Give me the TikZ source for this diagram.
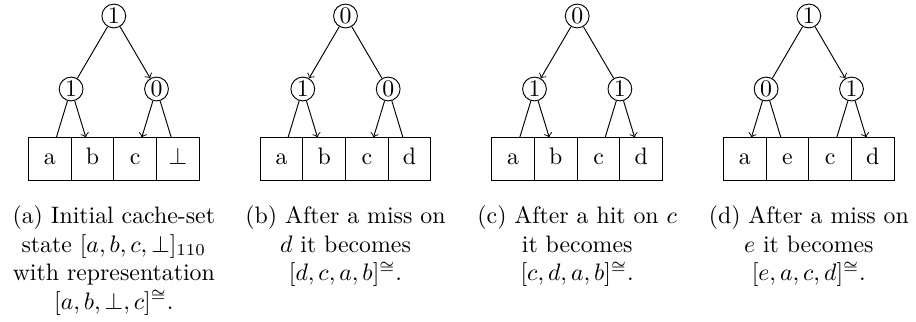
\documentclass[tikz,border=0pt]{standalone}
\begin{document}
\begin{tikzpicture}[x=0.42pt,y=-0.42pt,
  bit/.style={draw,circle,minimum size=10pt,inner sep=0pt},
  cell/.style={draw,minimum size=17.93pt,inner sep=0pt,text height=6.9pt,text depth=2.7pt},
  captext/.style={align=center,anchor=north,inner sep=0pt},
  arr/.style={->}]
\useasboundingbox (0,0) rectangle (916,322);

% ---------- (a)
\begin{scope}[shift={(113.8,0)}]
\node[bit] (ar) at (0,16) {1};
\node[bit] (al) at (-42.7,89) {1};
\node[bit] (aR) at (42.7,89) {0};
\node[cell] (a1) at (-64.05,159.2) {a};
\node[cell] (a2) at (-21.35,159.2) {b};
\node[cell] (a3) at (21.35,159.2) {c};
\node[cell] (a4) at (64.05,159.2) {$\perp$};
\draw (ar) -- (al); \draw[arr] (ar) -- (aR);
\draw (al) -- (a1); \draw[arr] (al) -- (a2);
\draw[arr] (aR) -- (a3); \draw (aR) -- (a4);
\node[captext] (acap) at (0,205.2) {(a) Initial cache-set\\ state $[a,b,c,\perp]_{110}$\\ with representation\\ $[a,b,\perp,c]^{\cong}$.};
\end{scope}

% ---------- (b)
\begin{scope}[shift={(345.5,0)}]
\node[bit] (br) at (0,16) {0};
\node[bit] (bl) at (-42.7,89) {1};
\node[bit] (bR) at (42.7,89) {0};
\node[cell] (b1) at (-64.05,159.2) {a};
\node[cell] (b2) at (-21.35,159.2) {b};
\node[cell] (b3) at (21.35,159.2) {c};
\node[cell] (b4) at (64.05,159.2) {d};
\draw[arr] (br) -- (bl); \draw (br) -- (bR);
\draw (bl) -- (b1); \draw[arr] (bl) -- (b2);
\draw[arr] (bR) -- (b3); \draw (bR) -- (b4);
\node[captext] (bcap) at (0,205.2) {(b) After a miss on\\ $d$ it becomes\\ $[d,c,a,b]^{\cong}$.};
\end{scope}

% ---------- (c)
\begin{scope}[shift={(577.2,0)}]
\node[bit] (cr) at (0,16) {0};
\node[bit] (cl) at (-42.7,89) {1};
\node[bit] (cR) at (42.7,89) {1};
\node[cell] (c1) at (-64.05,159.2) {a};
\node[cell] (c2) at (-21.35,159.2) {b};
\node[cell] (c3) at (21.35,159.2) {c};
\node[cell] (c4) at (64.05,159.2) {d};
\draw[arr] (cr) -- (cl); \draw (cr) -- (cR);
\draw (cl) -- (c1); \draw[arr] (cl) -- (c2);
\draw (cR) -- (c3); \draw[arr] (cR) -- (c4);
\node[captext] (ccap) at (0,205.2) {(c) After a hit on $c$\\ it becomes\\ $[c,d,a,b]^{\cong}$.};
\end{scope}

% ---------- (d)
\begin{scope}[shift={(808.8,0)}]
\node[bit] (dr) at (0,16) {1};
\node[bit] (dl) at (-42.7,89) {0};
\node[bit] (dR) at (42.7,89) {1};
\node[cell] (d1) at (-64.05,159.2) {a};
\node[cell] (d2) at (-21.35,159.2) {e};
\node[cell] (d3) at (21.35,159.2) {c};
\node[cell] (d4) at (64.05,159.2) {d};
\draw (dr) -- (dl); \draw[arr] (dr) -- (dR);
\draw[arr] (dl) -- (d1); \draw (dl) -- (d2);
\draw (dR) -- (d3); \draw[arr] (dR) -- (d4);
\node[captext] (dcap) at (0,205.2) {(d) After a miss on\\ $e$ it becomes\\ $[e,a,c,d]^{\cong}$.};
\end{scope}
\end{tikzpicture}
\end{document}
